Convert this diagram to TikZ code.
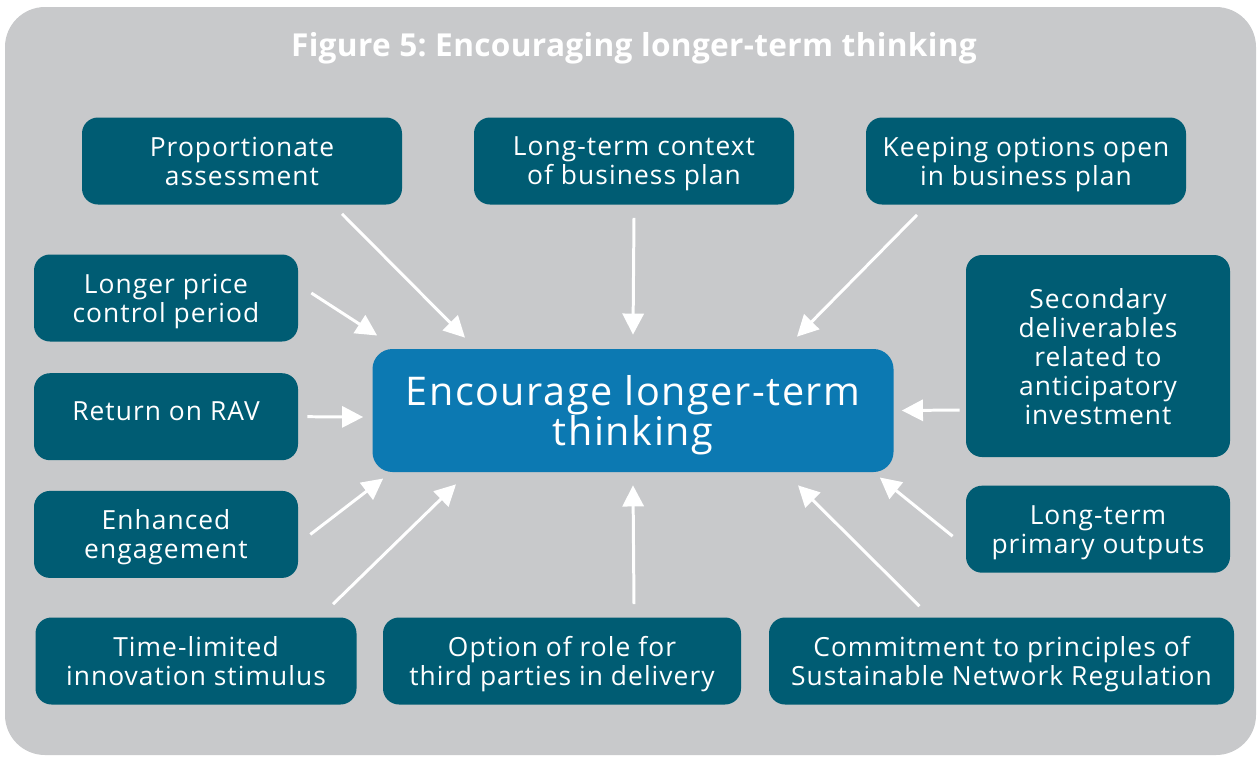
\documentclass[tikz,border=0pt]{standalone}
\usepackage{fontspec}
\setmainfont{Open Sans}[LetterSpace=4]
\newfontfamily\titlefont{Open Sans}[LetterSpace=1]
\frenchspacing
\usetikzlibrary{positioning}
\usetikzlibrary{arrows.meta}
\definecolor{bggray}{RGB}{200, 201, 203}
\definecolor{teal1}{RGB}{0, 92, 115}
\definecolor{blue1}{RGB}{12, 121, 178}
\tikzstyle{box} = [fill=teal1, text=white, rounded corners=0.32cm, align=center,
  minimum height=1.74cm, inner sep=0pt, text depth=0pt, font=\fontsize{15}{16.5}\selectfont]
\tikzstyle{line} = [draw=white, line width=1.7pt, -{Triangle[length=12pt, width=12pt]}]

\begin{document}
\begin{tikzpicture}

  \useasboundingbox (0,0) rectangle (25.16,-15.14);
  \fill[bggray, rounded corners=0.8cm] (0.1,-0.14) rectangle (25.12,-15.1);

  % ============================== Title =======================================

  \node[text=white, font=\titlefont\fontsize{18}{21}\selectfont\bfseries] (title) at (12.68,-0.96)
    {Figure 5: Encouraging longer-term thinking};

  % ============================== Centre ======================================

  \node[fill=blue1, text=white, rounded corners=0.4cm, align=center,
    minimum width=10.42cm, minimum height=2.46cm, inner sep=0pt, text depth=0pt,
    font=\fontsize{22.5}{22.5}\selectfont] (goal) at (12.66,-8.21)
    {Encourage longer-term\\thinking};

  % ============================== Top row =====================================

  \node[box, minimum width=6.4cm] (prop) at (4.84,-3.22) {Proportionate\\assessment};
  \node[box, minimum width=6.4cm] (ctx) at (12.68,-3.22) {Long-term context\\of business plan};
  \node[box, minimum width=6.4cm] (opts) at (20.52,-3.22) {Keeping options open\\in business plan};

  % ============================== Left side ===================================

  \node[box, minimum width=5.28cm] (price) at (3.32,-5.96) {Longer price\\control period};
  \node[box, minimum width=5.28cm, text depth=0.24cm, below=0.62cm of price] (rav) {Return on RAV};
  \node[box, minimum width=5.28cm, below=0.6cm of rav] (enh) {Enhanced\\engagement};

  % ============================== Right side ==================================

  \node[box, minimum width=5.28cm, minimum height=4.04cm] (sec) at (21.96,-7.12)
    {Secondary\\deliverables\\related to\\anticipatory\\investment};
  \node[box, minimum width=5.28cm, below=0.56cm of sec] (prim) {Long-term\\primary outputs};

  % ============================== Bottom row ==================================

  \node[box, minimum width=6.42cm] (time) at (3.92,-13.22) {Time-limited\\innovation stimulus};
  \node[box, minimum width=7.16cm] (role) at (11.24,-13.22) {Option of role for\\third parties in delivery};
  \node[box, minimum width=9.3cm] (sust) at (20.03,-13.22)
    {Commitment to principles of\\Sustainable Network Regulation};

  % ============================= Connect ======================================
  \path[line]{
    ([xshift=2cm, yshift=-0.18cm]prop.south)
    -- ([xshift=-3.36cm, yshift=0.22cm]goal.north)};
  \path[line]{
    ([yshift=-0.26cm]ctx.south)
    -- ([yshift=0.28cm]goal.north)};
  \path[line]{
    ([xshift=-2.18cm, yshift=-0.2cm]opts.south)
    -- ([xshift=3.28cm, yshift=0.24cm]goal.north)};
  \path[line]{
    ([xshift=0.26cm, yshift=0.1cm]price.east)
    -- ([xshift=0.1cm, yshift=1.5cm]goal.west)};
  \path[line]{
    ([xshift=0.18cm]rav.east)
    -- ([xshift=-0.18cm, yshift=-0.13cm]goal.west)};
  \path[line]{
    ([xshift=0.24cm]enh.east)
    -- ([xshift=0.22cm, yshift=-1.36cm]goal.west)};
  \path[line]{
    ([xshift=2.74cm, yshift=0.26cm]time.north)
    -- ([xshift=-3.54cm, yshift=-0.24cm]goal.south)};
  \path[line]{
    ([xshift=1.44cm, yshift=0.26cm]role.north)
    -- ([yshift=-0.26cm]goal.south)};
  \path[line]{
    ([xshift=-1.64cm, yshift=0.22cm]sust.north)
    -- ([xshift=3.3cm, yshift=-0.26cm]goal.south)};
  \path[line]{
    ([xshift=-0.26cm, yshift=-0.14cm]prim.west)
    -- ([xshift=-0.28cm, yshift=-1.34cm]goal.east)};
  \path[line]{
    ([xshift=-0.12cm, yshift=-1.08cm]sec.west)
    -- ([xshift=0.16cm]goal.east)};

\end{tikzpicture}
\end{document}
